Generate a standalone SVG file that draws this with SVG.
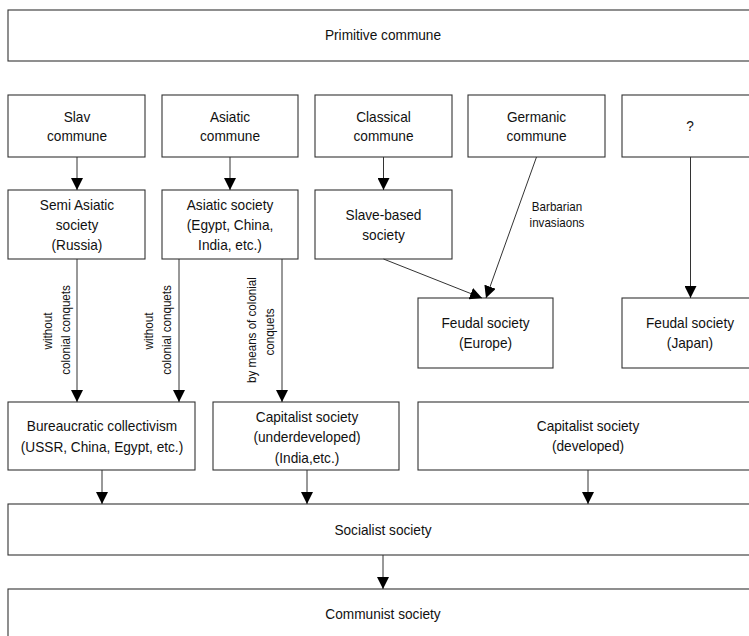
<svg xmlns="http://www.w3.org/2000/svg" width="749" height="636" viewBox="0 0 749 636">
<defs>
<style>
.box{fill:#fff;stroke:#333;stroke-width:1.1}
.t{font-family:"Liberation Sans",Arial,sans-serif;font-size:15.2px;fill:#111;text-anchor:middle;dominant-baseline:central}
.s{font-family:"Liberation Sans",Arial,sans-serif;font-size:12.9px;fill:#111;text-anchor:middle;dominant-baseline:central}
.ln{stroke:#333;stroke-width:1;fill:none;marker-end:url(#ah)}
</style>
<marker id="ah" markerUnits="userSpaceOnUse" markerWidth="12" markerHeight="12" viewBox="0 0 12 12" refX="12" refY="6" orient="auto">
<path d="M0,0 L12,6 L0,12 z" fill="#000"/>
</marker>
</defs>
<rect width="749" height="636" fill="#fff"/>
<g id="primitive"><rect class="box" x="8" y="10" width="751" height="51"/><text class="t" transform="translate(383,35) scale(0.9,1)">Primitive commune</text></g>
<g id="slav"><rect class="box" x="8" y="95" width="137" height="62"/><text class="t" transform="translate(77,116.5) scale(0.9,1)">Slav</text><text class="t" transform="translate(77,136) scale(0.9,1)">commune</text></g>
<g id="asiatic-commune"><rect class="box" x="162" y="95" width="136" height="62"/><text class="t" transform="translate(230,116.5) scale(0.9,1)">Asiatic</text><text class="t" transform="translate(230,136) scale(0.9,1)">commune</text></g>
<g id="classical"><rect class="box" x="315" y="95" width="137" height="62"/><text class="t" transform="translate(383.5,116.5) scale(0.9,1)">Classical</text><text class="t" transform="translate(383.5,136) scale(0.9,1)">commune</text></g>
<g id="germanic"><rect class="box" x="468" y="95" width="137" height="62"/><text class="t" transform="translate(536.5,116.5) scale(0.9,1)">Germanic</text><text class="t" transform="translate(536.5,136) scale(0.9,1)">commune</text></g>
<g id="unknown"><rect class="box" x="622" y="95" width="137" height="62"/><text class="t" transform="translate(690,126) scale(0.9,1)">?</text></g>
<g id="semi-asiatic"><rect class="box" x="8" y="190" width="137" height="69"/><text class="t" transform="translate(77,205) scale(0.9,1)">Semi Asiatic</text><text class="t" transform="translate(77,225) scale(0.9,1)">society</text><text class="t" transform="translate(77,244.5) scale(0.9,1)">(Russia)</text></g>
<g id="asiatic-society"><rect class="box" x="162" y="190" width="136" height="69"/><text class="t" transform="translate(230,205) scale(0.9,1)">Asiatic society</text><text class="t" transform="translate(230,225) scale(0.9,1)">(Egypt, China,</text><text class="t" transform="translate(230,244.5) scale(0.9,1)">India, etc.)</text></g>
<g id="slave"><rect class="box" x="315" y="190" width="137" height="69"/><text class="t" transform="translate(383.5,215) scale(0.9,1)">Slave-based</text><text class="t" transform="translate(383.5,234.5) scale(0.9,1)">society</text></g>
<g id="feudal-europe"><rect class="box" x="418" y="298" width="135" height="70"/><text class="t" transform="translate(485.5,323) scale(0.9,1)">Feudal society</text><text class="t" transform="translate(485.5,343) scale(0.9,1)">(Europe)</text></g>
<g id="feudal-japan"><rect class="box" x="622" y="298" width="137" height="70"/><text class="t" transform="translate(690,323) scale(0.9,1)">Feudal society</text><text class="t" transform="translate(690,343) scale(0.9,1)">(Japan)</text></g>
<g id="bureaucratic"><rect class="box" x="8" y="402" width="187" height="68"/><text class="t" transform="translate(102,425.5) scale(0.9,1)">Bureaucratic collectivism</text><text class="t" transform="translate(102,446.5) scale(0.9,1)">(USSR, China, Egypt, etc.)</text></g>
<g id="cap-under"><rect class="box" x="213" y="402" width="186" height="68"/><text class="t" transform="translate(307,416.5) scale(0.9,1)">Capitalist society</text><text class="t" transform="translate(307,437) scale(0.9,1)">(underdeveloped)</text><text class="t" transform="translate(307,458) scale(0.9,1)">(India,etc.)</text></g>
<g id="cap-dev"><rect class="box" x="418" y="402" width="341" height="68"/><text class="t" transform="translate(588,425.5) scale(0.9,1)">Capitalist society</text><text class="t" transform="translate(588,445.5) scale(0.9,1)">(developed)</text></g>
<g id="socialist"><rect class="box" x="8" y="504" width="751" height="51"/><text class="t" transform="translate(383,529.5) scale(0.9,1)">Socialist society</text></g>
<g id="communist"><rect class="box" x="8" y="589" width="751" height="60"/><text class="t" transform="translate(383,614) scale(0.9,1)">Communist society</text></g>
<g id="connectors">
<line class="ln" x1="77" y1="157" x2="77" y2="190"/>
<line class="ln" x1="230" y1="157" x2="230" y2="190"/>
<line class="ln" x1="383.5" y1="157" x2="383.5" y2="190"/>
<line class="ln" x1="536.5" y1="157" x2="486" y2="298"/>
<line class="ln" x1="383.5" y1="259" x2="482" y2="298"/>
<line class="ln" x1="690.5" y1="157" x2="690.5" y2="298"/>
<line class="ln" x1="77" y1="259" x2="77" y2="402"/>
<line class="ln" x1="179" y1="259" x2="179" y2="402"/>
<line class="ln" x1="282" y1="259" x2="282" y2="402"/>
<line class="ln" x1="102" y1="470" x2="102" y2="504"/>
<line class="ln" x1="307" y1="470" x2="307" y2="504"/>
<line class="ln" x1="588" y1="470" x2="588" y2="504"/>
<line class="ln" x1="383" y1="555" x2="383" y2="589"/>
</g>
<g id="labels">
<text class="s" transform="translate(48,331) rotate(-90) scale(0.9,1)">without</text>
<text class="s" transform="translate(66,330) rotate(-90) scale(0.9,1)">colonial conquets</text>
<text class="s" transform="translate(149,331) rotate(-90) scale(0.9,1)">without</text>
<text class="s" transform="translate(167,330) rotate(-90) scale(0.9,1)">colonial conquets</text>
<text class="s" transform="translate(252,330) rotate(-90) scale(0.9,1)">by means of colonial</text>
<text class="s" transform="translate(270,332) rotate(-90) scale(0.9,1)">conquets</text>
<text class="s" transform="translate(557,207) scale(0.9,1)">Barbarian</text>
<text class="s" transform="translate(557,223) scale(0.9,1)">invasiaons</text>
</g>
</svg>
